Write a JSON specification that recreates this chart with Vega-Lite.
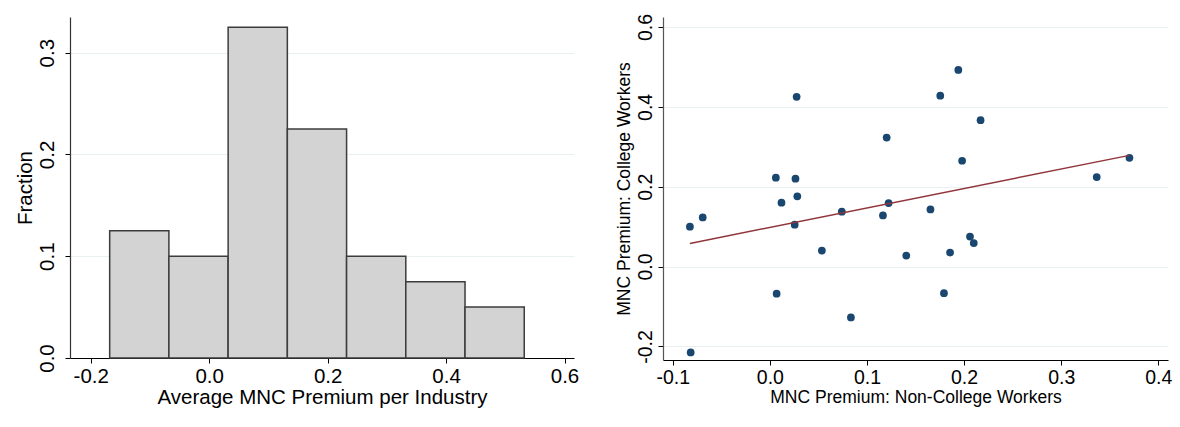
{
  "$schema": "https://vega.github.io/schema/vega-lite/v6.json",
  "background": "white",
  "padding": {"left": 15, "top": 13, "right": 5, "bottom": 5},
  "spacing": 89,
  "bounds": "flush",
  "config": {
    "font": "Liberation Sans",
    "view": {"stroke": null},
    "axis": {
      "titleFontWeight": "normal",
      "titleColor": "#000000",
      "labelColor": "#000000",
      "domainColor": "#000000",
      "tickColor": "#000000",
      "domainWidth": 1.2,
      "tickWidth": 1,
      "gridColor": "#e8f0f2",
      "gridWidth": 1.2,
      "labelExpr": "replace(datum.label, '\u2212', '-')"
    }
  },
  "hconcat": [
    {
      "width": 504,
      "height": 341,
      "data": {
        "values": [
          {"bin_start": -0.168, "bin_end": -0.068, "fraction": 0.125},
          {"bin_start": -0.068, "bin_end": 0.032, "fraction": 0.1},
          {"bin_start": 0.032, "bin_end": 0.132, "fraction": 0.325},
          {"bin_start": 0.132, "bin_end": 0.232, "fraction": 0.225},
          {"bin_start": 0.232, "bin_end": 0.332, "fraction": 0.1},
          {"bin_start": 0.332, "bin_end": 0.432, "fraction": 0.075},
          {"bin_start": 0.432, "bin_end": 0.532, "fraction": 0.05}
        ]
      },
      "mark": {"type": "rect", "fill": "#d3d3d3", "stroke": "#3c3c3c", "strokeWidth": 1.5},
      "encoding": {
        "x": {
          "field": "bin_start",
          "type": "quantitative",
          "scale": {"domain": [-0.235, 0.616], "nice": false, "zero": false},
          "axis": {
            "values": [-0.2, 0, 0.2, 0.4, 0.6],
            "format": ".1f",
            "grid": false,
            "labelFontSize": 20.5,
            "tickSize": 5,
            "labelPadding": 3,
            "title": "Average MNC Premium per Industry",
            "titleFontSize": 20.5,
            "titlePadding": 1
          }
        },
        "x2": {"field": "bin_end"},
        "y": {
          "field": "fraction",
          "type": "quantitative",
          "scale": {"domain": [0, 0.335], "nice": false},
          "axis": {
            "values": [0, 0.1, 0.2, 0.3],
            "format": ".1f",
            "grid": true,
            "labelAngle": -90,
            "labelAlign": "center",
            "labelBaseline": "bottom",
            "labelFontSize": 20.5,
            "tickSize": 5,
            "labelPadding": 8,
            "minExtent": 33.5,
            "maxExtent": 33.5,
            "title": "Fraction",
            "titleFontSize": 20.5,
            "titlePadding": 1,
            "domainColor": "#333333"
          }
        },
        "y2": {"datum": 0}
      }
    },
    {
      "width": 505,
      "height": 343,
      "data": {
        "values": [
          {"x": -0.0823, "y": 0.1},
          {"x": -0.0691, "y": 0.123},
          {"x": -0.0815, "y": -0.215},
          {"x": 0.0062, "y": 0.2225},
          {"x": 0.007, "y": -0.068},
          {"x": 0.012, "y": 0.16},
          {"x": 0.0264, "y": 0.22},
          {"x": 0.0276, "y": 0.425},
          {"x": 0.0283, "y": 0.176},
          {"x": 0.0256, "y": 0.105},
          {"x": 0.0536, "y": 0.04},
          {"x": 0.0741, "y": 0.1375},
          {"x": 0.0835, "y": -0.1275},
          {"x": 0.1165, "y": 0.128},
          {"x": 0.1203, "y": 0.323},
          {"x": 0.1223, "y": 0.159},
          {"x": 0.1405, "y": 0.0275},
          {"x": 0.1654, "y": 0.143},
          {"x": 0.1755, "y": 0.428},
          {"x": 0.1793, "y": -0.0667},
          {"x": 0.1856, "y": 0.035},
          {"x": 0.1941, "y": 0.4925},
          {"x": 0.198, "y": 0.265},
          {"x": 0.2061, "y": 0.075},
          {"x": 0.21, "y": 0.059},
          {"x": 0.217, "y": 0.3667},
          {"x": 0.3366, "y": 0.224},
          {"x": 0.3703, "y": 0.2725}
        ]
      },
      "encoding": {
        "x": {
          "field": "x",
          "type": "quantitative",
          "scale": {"domain": [-0.11, 0.41], "nice": false, "zero": false},
          "axis": {
            "values": [-0.1, 0, 0.1, 0.2, 0.3, 0.4],
            "format": ".1f",
            "grid": false,
            "labelFontSize": 19.5,
            "tickSize": 5,
            "labelPadding": 3,
            "title": "MNC Premium: Non-College Workers",
            "titleFontSize": 17.5,
            "titlePadding": 2
          }
        },
        "y": {
          "field": "y",
          "type": "quantitative",
          "scale": {"domain": [-0.234, 0.625], "nice": false, "zero": false},
          "axis": {
            "values": [-0.2, 0, 0.2, 0.4, 0.6],
            "format": ".1f",
            "grid": true,
            "labelAngle": -90,
            "labelAlign": "center",
            "labelBaseline": "bottom",
            "labelFontSize": 19.5,
            "tickSize": 5,
            "labelPadding": 3,
            "minExtent": 27,
            "maxExtent": 27,
            "title": "MNC Premium: College Workers",
            "titleFontSize": 17.5,
            "titlePadding": 3,
            "domainColor": "#555555"
          }
        }
      },
      "layer": [
        {
          "mark": {"type": "point", "filled": true, "color": "#1a476f", "size": 60, "opacity": 1}
        },
        {
          "transform": [{"regression": "y", "on": "x"}],
          "mark": {"type": "line", "color": "#90353b", "strokeWidth": 1.5}
        }
      ]
    }
  ]
}
